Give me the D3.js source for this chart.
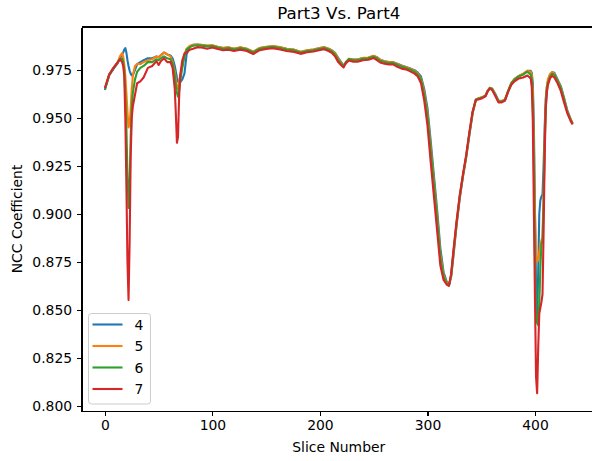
<!DOCTYPE html>
<meta charset="utf-8">
<head>
    <meta charset="utf-8">
    <title>Part3 Vs. Part4</title>
    <script src="https://d3js.org/d3.v7.min.js" charset="utf-8"></script>
    <style>
        html, body {
            margin: 0;
            padding: 0;
            background: #fff;
        }
        svg {
            display: block;
            font-family: "DejaVu Sans", sans-serif;
        }
        .axis path, .axis line {
            stroke: #000;
            stroke-width: 1.1px;
            shape-rendering: crispEdges;
        }
        .axis text {
            fill: #000;
            font-size: 13.9px;
            font-family: "DejaVu Sans", sans-serif;
        }
        .line {
            fill: none;
            stroke-width: 2.1px;
            stroke-linejoin: round;
        }
    </style>
</head>

<body>
<svg width="592" height="461"></svg>

<script>

/****************************
 data
****************************/

var slices = [
    0, 4, 8, 12, 14, 16, 17, 18, 19, 20, 21, 22, 23, 24, 25, 26, 28, 30, 33, 36, 40,
    44, 48, 50, 52, 55, 58, 61, 63, 65, 66, 67, 68, 69, 70, 72, 74, 76, 79, 82,
    86, 90, 95, 100, 105, 110, 115, 120, 126, 132,
    138, 144, 150, 156, 163, 169, 176, 182, 188, 194,
    200, 204, 208, 211, 214, 217, 220, 222, 224, 227,
    231, 235, 240, 245, 250, 253, 256, 260, 264, 268,
    272, 276, 280, 284, 288, 291, 294, 297, 300, 303,
    306, 309, 312, 315, 318, 320, 322, 324, 327, 330,
    333, 336, 339, 342, 345, 348, 351, 354, 356, 358,
    360, 363, 366, 369, 372, 375, 378, 381, 385, 389,
    393,
    396, 397, 398, 399, 400, 401, 402, 403, 404, 405, 406, 407, 408, 409, 410, 411, 412, 414, 416, 418,
    421, 424, 427, 430, 433, 435
];

var ncc4 = [
    0.9645, 0.972, 0.9755, 0.9785, 0.981, 0.983, 0.984, 0.9855, 0.9863, 0.984, 0.980, 0.977, 0.9745, 0.973, 0.972, 0.9722, 0.975, 0.978, 0.979, 0.980, 0.981,
    0.981, 0.982, 0.9815, 0.9825, 0.984, 0.983, 0.9825, 0.981, 0.977, 0.974, 0.971, 0.969, 0.968, 0.9685, 0.970, 0.973, 0.983, 0.987, 0.988,
    0.9881, 0.9879, 0.9875, 0.9877, 0.9869, 0.9863, 0.9866, 0.9859, 0.9866, 0.9859,
    0.9843, 0.9863, 0.9869, 0.9873, 0.9867, 0.9859, 0.9854, 0.9843, 0.9851, 0.9855,
    0.9863, 0.9867, 0.9860, 0.9852, 0.9838, 0.9812, 0.9788, 0.9772, 0.9782, 0.9806,
    0.9803, 0.9803, 0.9811, 0.9813, 0.9822, 0.9816, 0.9803, 0.9795, 0.9790, 0.9790,
    0.9782, 0.9772, 0.9765, 0.9757, 0.9748, 0.9735, 0.9715, 0.9650, 0.9550, 0.9380,
    0.9200, 0.9020, 0.8820, 0.8695, 0.8645, 0.8628, 0.8670, 0.8770, 0.8935, 0.9078,
    0.9192, 0.9292, 0.9410, 0.9522, 0.9592, 0.9602, 0.9607, 0.9615, 0.9638, 0.9655,
    0.9653, 0.9625, 0.9590, 0.9587, 0.9592, 0.9635, 0.9678, 0.9702, 0.9718, 0.9728,
    0.9745,
    0.9745, 0.9735, 0.968, 0.945, 0.900, 0.860, 0.845, 0.870, 0.900, 0.907, 0.909, 0.910, 0.925, 0.945, 0.960, 0.966, 0.969, 0.9725, 0.9738, 0.9735,
    0.970, 0.9665, 0.9605, 0.954, 0.9495, 0.9468
];

var ncc5 = [
    0.965, 0.9725, 0.976, 0.979, 0.982, 0.9837, 0.982, 0.978, 0.972, 0.963, 0.953, 0.945, 0.9465, 0.955, 0.965, 0.972, 0.977, 0.978, 0.978, 0.979, 0.980,
    0.9805, 0.982, 0.9815, 0.9825, 0.984, 0.983, 0.982, 0.979, 0.974, 0.970, 0.966, 0.965, 0.968, 0.972, 0.977, 0.983, 0.986, 0.9875, 0.988,
    0.9882, 0.9880, 0.9876, 0.9878, 0.9870, 0.9864, 0.9867, 0.9860, 0.9867, 0.9860,
    0.9844, 0.9864, 0.9870, 0.9874, 0.9868, 0.9860, 0.9855, 0.9844, 0.9852, 0.9856,
    0.9864, 0.9868, 0.9860, 0.9851, 0.9836, 0.9808, 0.9785, 0.9770, 0.9786, 0.9808,
    0.9804, 0.9804, 0.9812, 0.9814, 0.9823, 0.9815, 0.9802, 0.9794, 0.9790, 0.9790,
    0.9780, 0.9770, 0.9764, 0.9756, 0.9745, 0.9730, 0.9705, 0.9635, 0.9525, 0.9350,
    0.9170, 0.8990, 0.8790, 0.8680, 0.8640, 0.8627, 0.8675, 0.8780, 0.8942, 0.9084,
    0.9196, 0.9296, 0.9415, 0.9526, 0.9594, 0.9603, 0.9607, 0.9617, 0.9641, 0.9657,
    0.9653, 0.9623, 0.9588, 0.9587, 0.9594, 0.9640, 0.9682, 0.9703, 0.9718, 0.9730,
    0.9745,
    0.974, 0.9725, 0.964, 0.935, 0.900, 0.878, 0.875, 0.876, 0.880, 0.884, 0.886, 0.888, 0.910, 0.940, 0.958, 0.966, 0.970, 0.9728, 0.9738, 0.973,
    0.9695, 0.966, 0.960, 0.9535, 0.9495, 0.9472
];

var ncc6 = [
    0.965, 0.9725, 0.976, 0.979, 0.9805, 0.981, 0.979, 0.975, 0.962, 0.945, 0.920, 0.903, 0.915, 0.940, 0.955, 0.963, 0.970, 0.974, 0.976, 0.977, 0.979,
    0.979, 0.9805, 0.980, 0.981, 0.982, 0.981, 0.9805, 0.978, 0.972, 0.967, 0.963, 0.961, 0.964, 0.969, 0.976, 0.982, 0.9855, 0.9868, 0.9875,
    0.9878, 0.9876, 0.9872, 0.9874, 0.9866, 0.9860, 0.9863, 0.9856, 0.9863, 0.9856,
    0.9840, 0.9860, 0.9866, 0.9870, 0.9864, 0.9856, 0.9851, 0.9840, 0.9848, 0.9852,
    0.9860, 0.9864, 0.9856, 0.9846, 0.9830, 0.9800, 0.9780, 0.9768, 0.9790, 0.9806,
    0.9800, 0.9800, 0.9808, 0.9810, 0.9819, 0.9810, 0.9797, 0.9790, 0.9786, 0.9786,
    0.9776, 0.9766, 0.9760, 0.9752, 0.9740, 0.9725, 0.9700, 0.9620, 0.9510, 0.9330,
    0.9150, 0.8970, 0.8770, 0.8670, 0.8635, 0.8625, 0.8680, 0.8790, 0.8950, 0.9090,
    0.9200, 0.9300, 0.9420, 0.9530, 0.9595, 0.9600, 0.9605, 0.9615, 0.9640, 0.9655,
    0.9650, 0.9620, 0.9585, 0.9585, 0.9592, 0.9640, 0.9680, 0.9700, 0.9715, 0.9725,
    0.9740,
    0.9725, 0.970, 0.958, 0.925, 0.880, 0.850, 0.843, 0.842, 0.853, 0.872, 0.884, 0.886, 0.905, 0.935, 0.955, 0.964, 0.968, 0.9715, 0.973, 0.9725,
    0.969, 0.9655, 0.9595, 0.953, 0.949, 0.947
];

var ncc7 = [
    0.9655, 0.9725, 0.976, 0.979, 0.9805, 0.979, 0.977, 0.972, 0.950, 0.915, 0.875, 0.855, 0.885, 0.930, 0.950, 0.956, 0.962, 0.968, 0.969, 0.971, 0.976,
    0.977, 0.9795, 0.9775, 0.9795, 0.981, 0.979, 0.979, 0.976, 0.965, 0.952, 0.937, 0.940, 0.960, 0.972, 0.980, 0.9835, 0.984, 0.9855, 0.986,
    0.9868, 0.9866, 0.9860, 0.9866, 0.9858, 0.9852, 0.9855, 0.9848, 0.9855, 0.9848,
    0.9832, 0.9852, 0.9858, 0.9863, 0.9856, 0.9848, 0.9843, 0.9833, 0.9841, 0.9845,
    0.9853, 0.9857, 0.9848, 0.9838, 0.9820, 0.9790, 0.9772, 0.9762, 0.9785, 0.9798,
    0.9792, 0.9792, 0.9800, 0.9802, 0.9811, 0.9800, 0.9788, 0.9782, 0.9778, 0.9778,
    0.9766, 0.9756, 0.9752, 0.9742, 0.9730, 0.9715, 0.9680, 0.9590, 0.9460, 0.9270,
    0.9090, 0.8910, 0.8730, 0.8655, 0.8630, 0.8625, 0.8685, 0.8800, 0.8958, 0.9096,
    0.9205, 0.9305, 0.9425, 0.9533, 0.9593, 0.9597, 0.9602, 0.9612, 0.9638, 0.9652,
    0.9646, 0.9615, 0.9580, 0.9580, 0.9588, 0.9635, 0.9672, 0.9690, 0.9705, 0.9710,
    0.9720,
    0.9705, 0.966, 0.948, 0.900, 0.855, 0.815, 0.8065, 0.830, 0.848, 0.851, 0.854, 0.858, 0.890, 0.930, 0.955, 0.963, 0.967, 0.9705, 0.972, 0.971,
    0.968, 0.964, 0.958, 0.9525, 0.9485, 0.9465
];

var seriesNames = ["4", "5", "6", "7"];
var seriesColors = ["#1f77b4", "#ff7f0e", "#2ca02c", "#d62728"];
var xTicks = [0, 100, 200, 300, 400];
var yTicks = [0.800, 0.825, 0.850, 0.875, 0.900, 0.925, 0.950, 0.975];

/****************************
 layout
****************************/

var svg = d3.select("svg"),
    margin = {top: 27, left: 81.5},
    width = 514.5,
    height = 384;

var allSeries = [ncc4, ncc5, ncc6, ncc7];

var x = d3.scaleLinear().domain([-21.75, 456.75]).range([0, width]);
var y = d3.scaleLinear().domain([0.7972, 0.9973]).range([height, 0]);

var g = svg.append("g")
    .attr("transform", "translate(" + margin.left + "," + margin.top + ")");

svg.append("defs").append("clipPath")
    .attr("id", "clip")
    .append("rect")
    .attr("width", width)
    .attr("height", height);

var line = d3.line()
    .x(d => x(d[0]))
    .y(d => y(d[1]));

var plot = g.append("g").attr("clip-path", "url(#clip)");

allSeries.forEach(function(vals, i) {
    var pts = slices.map((s, j) => [s, vals[j]]).filter(d => d[1] != null);
    plot.append("path")
        .datum(pts)
        .attr("class", "line")
        .attr("stroke", seriesColors[i])
        .attr("d", line);
});

// axes
g.append("g")
    .attr("class", "axis")
    .attr("transform", "translate(0," + height + ")")
    .call(d3.axisBottom(x).tickValues(xTicks).tickFormat(d3.format("d"))
        .tickSizeInner(4.9).tickSizeOuter(0).tickPadding(4.5));

g.append("g")
    .attr("class", "axis")
    .call(d3.axisLeft(y).tickValues(yTicks).tickFormat(d3.format(".3f"))
        .tickSizeInner(4.9).tickSizeOuter(0).tickPadding(4.5));

// top spine (right spine is off the picture)
g.append("line")
    .attr("x1", 0).attr("x2", width)
    .attr("y1", 0).attr("y2", 0)
    .attr("stroke", "#000")
    .attr("stroke-width", 1.1)
    .attr("shape-rendering", "crispEdges");

// title and labels
svg.append("text")
    .attr("x", margin.left + width / 2)
    .attr("y", 18.5)
    .attr("text-anchor", "middle")
    .attr("font-size", "16.7px")
    .text("Part3 Vs. Part4");

svg.append("text")
    .attr("x", margin.left + width / 2)
    .attr("y", 451.5)
    .attr("text-anchor", "middle")
    .attr("font-size", "13.9px")
    .text("Slice Number");

svg.append("text")
    .attr("transform", "translate(21.5," + (margin.top + height / 2) + ") rotate(-90)")
    .attr("text-anchor", "middle")
    .attr("font-size", "13.9px")
    .text("NCC Coefficient");

// legend
var legend = svg.append("g").attr("transform", "translate(88.5,313.5)");

legend.append("rect")
    .attr("width", 62)
    .attr("height", 90.5)
    .attr("rx", 3)
    .attr("fill", "#fff")
    .attr("fill-opacity", 0.8)
    .attr("stroke", "#cccccc")
    .attr("stroke-width", 1);

seriesNames.forEach(function(name, i) {
    var ly = 11 + i * 21.5;
    legend.append("line")
        .attr("x1", 4).attr("x2", 34)
        .attr("y1", ly).attr("y2", ly)
        .attr("stroke", seriesColors[i])
        .attr("stroke-width", 2.1);
    legend.append("text")
        .attr("x", 46)
        .attr("y", ly)
        .attr("dy", "0.36em")
        .attr("font-size", "13.9px")
        .text(name);
});

</script>
</body>
</html>
